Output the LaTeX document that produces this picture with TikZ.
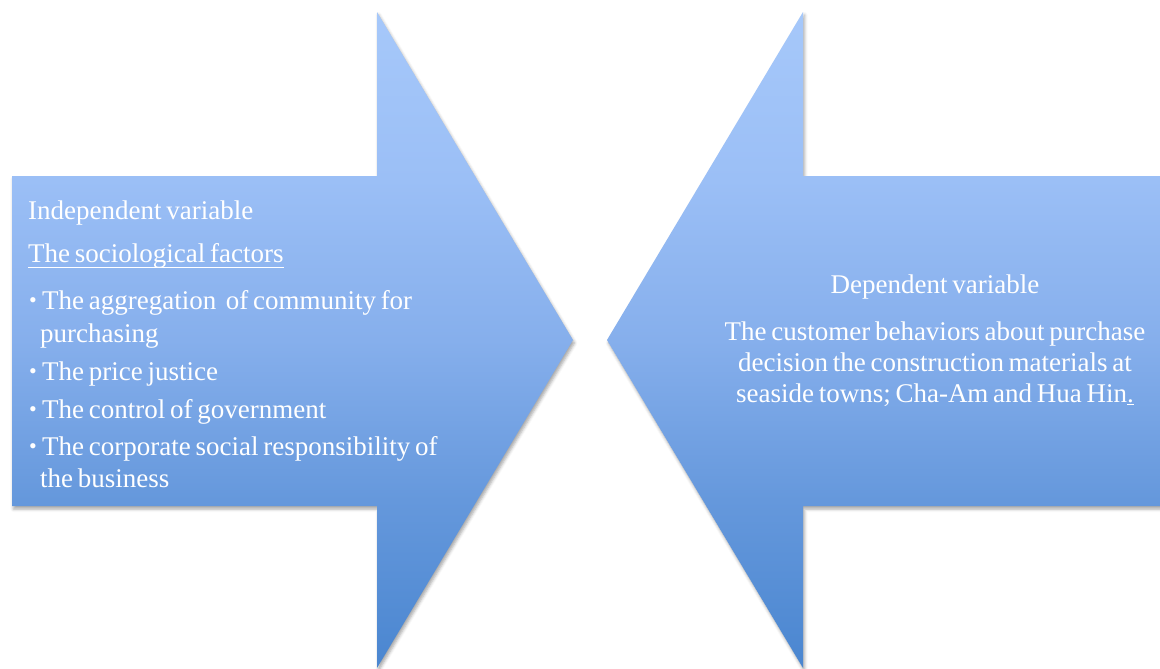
\documentclass[tikz,border=0pt]{standalone}
\usepackage{fontspec}
\setmainfont[WordSpace=0.7]{Liberation Serif}
\usetikzlibrary{shadows.blur}

% blue fill, light at the top, deeper at the bottom
\definecolor{gtop}{HTML}{A6C8FA}
\definecolor{gupper}{HTML}{9BBFF6}
\definecolor{gmid}{HTML}{86AFEC}
\definecolor{glower}{HTML}{6598DC}
\definecolor{gbot}{HTML}{4A86D0}
\pgfdeclareverticalshading{arrowgrad}{100bp}{%
  color(0bp)=(gbot); color(25bp)=(gbot); color(37.8bp)=(glower);
  color(50bp)=(gmid); color(62.2bp)=(gupper); color(75bp)=(gtop);
  color(100bp)=(gtop)}

\tikzset{
  bigarrow/.style={shading=arrowgrad, shading angle=0,
    blur shadow={shadow xshift=1.5pt, shadow yshift=-3pt,
      shadow blur radius=3pt, shadow opacity=35}},
  txt/.style={inner sep=0pt, text=white, font=\rmfamily\fontsize{27}{32}\selectfont},
  lline/.style={txt, anchor=base west},
  cline/.style={txt, anchor=base},
  bul/.style={inner sep=0pt, text=white, font=\rmfamily\fontsize{22}{26}\selectfont, anchor=base},
}

\begin{document}
\begin{tikzpicture}[x=1pt, y=-1pt]
\useasboundingbox (0,0) rectangle (1160,669);

% right-pointing arrow
\shade[bigarrow] (12,176) -- (377,176) -- (377,12) -- (573,340)
  -- (377,668) -- (377,506) -- (12,506) -- cycle;
% left-pointing arrow
\shade[bigarrow] (1165,176) -- (803,176) -- (803,12) -- (607,340)
  -- (803,668) -- (803,506) -- (1165,506) -- cycle;

% independent side
\node[lline] (indep) at (28,219) {Independent variable};
\node[lline] (socio) at (28,262) {The sociological factors};
\draw[white, line width=1pt] ([yshift=-5pt]socio.base west) -- ([yshift=-5pt]socio.base east);

\node[bul] (b1) at (33,307) {•};
\node[lline] (f1a) at (42,309) {The aggregation\ \ of community for};
\node[lline] (f1b) at (40,342) {purchasing};
\node[bul] (b2) at (33,378) {•};
\node[lline] (f2) at (42,380) {The price justice};
\node[bul] (b3) at (33,416) {•};
\node[lline] (f3) at (42,418) {The control of government};
\node[bul] (b4) at (33,453) {•};
\node[lline] (f4a) at (42,455) {The corporate social responsibility of};
\node[lline] (f4b) at (40,487) {the business};

% dependent side
\node[cline] (dep) at (935,293) {Dependent variable};
\node[cline] (d1) at (935,340) {The customer behaviors about purchase};
\node[cline] (d2) at (935,371) {decision the construction materials at};
\node[cline] (d3) at (935,402) {seaside towns; Cha-Am and Hua Hin\underline{.}};
\end{tikzpicture}
\end{document}
